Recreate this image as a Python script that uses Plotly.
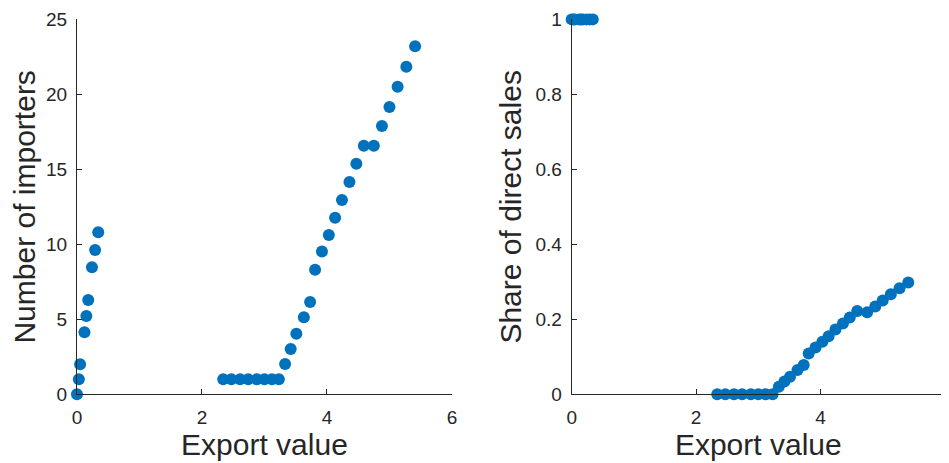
import plotly.graph_objects as go

# Export value grid (shared by both panels)
export_value = [0.00, 0.03, 0.05, 0.12, 0.15, 0.18, 0.24, 0.29, 0.34,
                2.34, 2.47, 2.61, 2.74, 2.88, 3.00, 3.12, 3.23,
                3.33, 3.42, 3.51, 3.63, 3.73, 3.81, 3.92, 4.03, 4.13,
                4.24, 4.36, 4.47, 4.59, 4.75, 4.88, 5.00, 5.13, 5.27, 5.41]

num_importers = [0, 1, 2, 4.13, 5.22, 6.29, 8.47, 9.62, 10.8,
                 1, 1, 1, 1, 1, 1, 1, 1,
                 2.02, 3.02, 4.04, 5.13, 6.15, 8.31, 9.52, 10.62, 11.77,
                 12.95, 14.15, 15.37, 16.57, 16.57, 17.89, 19.15, 20.5, 21.84, 23.2]

share_direct = [1, 1, 1, 1, 1, 1, 1, 1, 1,
                0, 0, 0, 0, 0, 0, 0, 0,
                0.02, 0.034, 0.047, 0.065, 0.078, 0.109, 0.125, 0.140, 0.155,
                0.173, 0.189, 0.205, 0.222, 0.219, 0.234, 0.250, 0.267, 0.283, 0.298]

left_yticks = [0, 5, 10, 15, 20, 25]
right_yticks = [0, 0.2, 0.4, 0.6, 0.8, 1]
right_yticklabels = ["0", "0.2", "0.4", "0.6", "0.8", "1"]
xticks = [0, 2, 4, 6]

BLUE = "#0072BD"
AX = "#262626"
FONT = "Liberation Sans, Helvetica, Arial, sans-serif"

fig = go.Figure()
fig.add_trace(go.Scatter(x=export_value, y=num_importers, mode="markers",
                         marker=dict(size=12, color=BLUE), xaxis="x", yaxis="y",
                         cliponaxis=False, showlegend=False))
fig.add_trace(go.Scatter(x=export_value, y=share_direct, mode="markers",
                         marker=dict(size=12, color=BLUE), xaxis="x2", yaxis="y2",
                         cliponaxis=False, showlegend=False))

common = dict(showline=True, linecolor=AX, linewidth=1, ticks="inside", ticklen=5,
              tickcolor=AX, showgrid=False, zeroline=False, mirror=False,
              automargin=False,
              tickfont=dict(family=FONT, size=19, color=AX))

title_font = dict(family=FONT, size=30, color=AX)

# page body adds an 8px offset, so the figure is 941x455 placed at (8, 8)
fig.update_layout(
    width=941, height=455,
    margin=dict(l=0, r=0, t=0, b=0),
    paper_bgcolor="white", plot_bgcolor="white",
    font=dict(family=FONT, color=AX),
    xaxis=dict(domain=[0.0733, 0.4718], anchor="y", range=[0, 6], tickvals=xticks,
               ticklabelstandoff=6,
               title=dict(text="Export value", font=title_font, standoff=6),
               **common),
    yaxis=dict(domain=[0.151, 0.975], anchor="x", range=[0, 25], tickvals=left_yticks,
               ticklabelstandoff=5,
               title=dict(text="Number of importers", font=title_font, standoff=4),
               **common),
    xaxis2=dict(domain=[0.5990, 0.9957], anchor="y2", range=[0, 6], tickvals=xticks,
                ticklabelstandoff=6,
                title=dict(text="Export value", font=title_font, standoff=6),
                **common),
    yaxis2=dict(domain=[0.151, 0.975], anchor="x2", range=[0, 1], tickvals=right_yticks,
                ticktext=right_yticklabels, ticklabelstandoff=5,
                title=dict(text="Share of direct sales", font=title_font, standoff=4),
                **common),
)

fig.write_html("out.html")
